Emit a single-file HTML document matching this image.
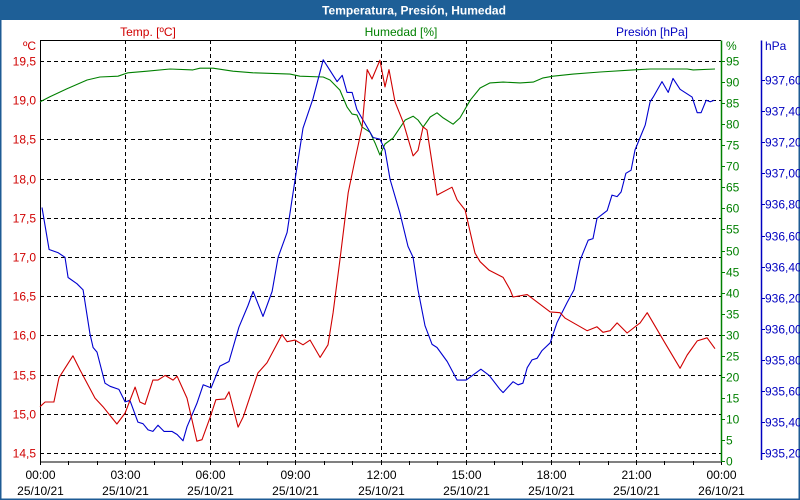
<!DOCTYPE html>
<html><head><meta charset="utf-8"><style>
html,body{margin:0;padding:0;background:#fff;}
svg{display:block;font-family:"Liberation Sans",sans-serif;}
</style></head><body>
<svg id="chart" width="800" height="500" viewBox="0 0 800 500">
<rect x="0" y="0" width="800" height="500" fill="#fff"/>
<rect x="0.5" y="0.5" width="799" height="499" fill="none" stroke="#1e5b94" stroke-width="2"/>
<rect x="0" y="0" width="800" height="20" fill="#1e5f97"/>
<text x="414" y="14.5" text-anchor="middle" font-size="12" font-weight="bold" fill="#fff">Temperatura, Presión, Humedad</text>
<text x="148" y="36" text-anchor="middle" font-size="12" fill="#d00000">Temp. [ºC]</text>
<text x="401" y="36" text-anchor="middle" font-size="12" fill="#008000">Humedad [%]</text>
<text x="652" y="36" text-anchor="middle" font-size="12" fill="#0000c0">Presión [hPa]</text>
<g id="grid"></g>
<g id="axes"></g>
<g id="series"></g>
</svg>
<script>
const timeTicks=["00:00","03:00","06:00","09:00","12:00","15:00","18:00","21:00","00:00"];
const dateTicks=["25/10/21","25/10/21","25/10/21","25/10/21","25/10/21","25/10/21","25/10/21","25/10/21","26/10/21"];
const tempTicks=[14.5,15,15.5,16,16.5,17,17.5,18,18.5,19,19.5];
const humTicks=[0,5,10,15,20,25,30,35,40,45,50,55,60,65,70,75,80,85,90,95];
const presTicks=[935.2,935.4,935.6,935.8,936.0,936.2,936.4,936.6,936.8,937.0,937.2,937.4,937.6];

const tempHours=[0,0.18,0.49,0.67,1.16,1.41,1.94,2.22,2.71,3.00,3.35,3.52,3.70,3.98,4.16,4.41,4.69,4.83,5.18,5.53,5.71,5.99,6.20,6.52,6.66,6.98,7.16,7.68,8.00,8.53,8.71,8.99,9.27,9.52,9.87,10.15,10.33,10.57,10.86,11.10,11.35,11.53,11.70,11.98,12.16,12.30,12.51,12.80,13.15,13.32,13.50,13.64,13.99,14.52,14.70,14.98,15.33,15.51,15.83,16.32,16.57,16.67,17.17,17.98,18.33,18.51,19.28,19.63,19.84,20.09,20.34,20.69,21.15,21.40,22.03,22.56,22.81,23.16,23.51,23.79];
const tempValues=[15.09,15.15,15.15,15.46,15.74,15.56,15.20,15.09,14.87,15.01,15.34,15.15,15.12,15.43,15.43,15.49,15.43,15.48,15.20,14.65,14.67,14.95,15.18,15.19,15.28,14.83,14.96,15.52,15.65,16.01,15.92,15.94,15.88,15.94,15.72,15.88,16.29,16.96,17.82,18.24,18.66,19.39,19.27,19.51,19.17,19.39,18.98,18.72,18.29,18.36,18.66,18.62,17.79,17.89,17.73,17.60,17.05,16.94,16.83,16.74,16.58,16.49,16.52,16.30,16.29,16.22,16.06,16.11,16.04,16.06,16.16,16.03,16.16,16.29,15.90,15.58,15.75,15.93,15.97,15.83];

const humHours=[0,0.35,0.95,1.66,2.11,2.75,3.10,3.77,4.58,5.39,5.64,6.10,6.80,7.51,8.81,9.16,9.98,10.22,10.57,10.82,11.00,11.17,11.35,11.63,11.81,11.98,12.16,12.44,12.87,13.15,13.32,13.50,13.75,13.99,14.21,14.56,14.80,15.16,15.51,15.86,16.32,16.92,17.38,17.73,18.08,18.79,19.74,20.90,21.50,22.81,23.02,23.79];
const humValues=[85.3,86.5,88.4,90.5,91.2,91.4,92.2,92.6,93.1,92.9,93.3,93.3,92.6,92.2,91.9,91.4,91.2,90.5,88.1,84.1,82.4,82.2,79.3,78.1,75.5,72.7,75.3,76.7,81.0,81.9,81.0,79.3,81.7,82.7,81.5,80.0,81.5,85.7,88.6,89.8,90.0,89.8,90.0,91.0,91.4,91.9,92.4,92.9,93.1,93.1,92.9,93.1];

const presHours=[0.07,0.32,0.63,0.88,0.99,1.30,1.52,1.76,1.87,2.01,2.29,2.47,2.78,3.00,3.17,3.45,3.63,3.81,3.98,4.16,4.37,4.65,4.83,5.04,5.18,5.53,5.75,6.03,6.34,6.66,7.01,7.33,7.51,7.86,8.18,8.39,8.71,8.88,9.27,9.62,9.98,10.47,10.65,10.82,11.00,11.17,11.74,11.98,12.16,12.34,12.69,12.97,13.15,13.32,13.57,13.82,13.99,14.35,14.70,15.02,15.54,15.83,16.21,16.32,16.67,16.85,17.02,17.17,17.34,17.52,17.69,17.98,18.22,18.58,18.82,19.03,19.32,19.49,19.63,19.99,20.16,20.34,20.48,20.65,20.83,20.97,21.15,21.33,21.50,21.61,21.92,22.14,22.31,22.56,22.98,23.16,23.30,23.48,23.62,23.76];
const presValues=[936.78,936.51,936.49,936.46,936.33,936.29,936.25,935.97,935.88,935.85,935.65,935.63,935.61,935.53,935.54,935.40,935.39,935.35,935.34,935.38,935.34,935.34,935.32,935.28,935.37,935.52,935.64,935.62,935.76,935.79,936.01,936.15,936.24,936.08,936.24,936.46,936.62,936.83,937.29,937.48,937.73,937.59,937.63,937.52,937.52,937.41,937.23,937.22,937.15,936.96,936.74,936.53,936.46,936.25,936.02,935.90,935.88,935.79,935.67,935.67,935.74,935.70,935.61,935.59,935.66,935.64,935.65,935.75,935.80,935.81,935.86,935.91,936.04,936.17,936.25,936.44,936.57,936.58,936.71,936.76,936.86,936.85,936.88,937.00,937.02,937.15,937.23,937.31,937.46,937.49,937.59,937.52,937.61,937.54,937.49,937.39,937.39,937.47,937.46,937.47];

const L=40,R=721,T=40,B=461;
const xH=h=>L+h*(R-L)/24;
const yT=v=>61+(19.5-v)*78.4;
const yH=v=>461-v*4.21;
const yP=v=>80+(937.6-v)*155.5;
const NS="http://www.w3.org/2000/svg";
function mk(tag,attrs,parent){const e=document.createElementNS(NS,tag);for(const k in attrs)e.setAttribute(k,attrs[k]);parent.appendChild(e);return e;}
const grid=document.getElementById('grid'),axes=document.getElementById('axes'),series=document.getElementById('series');

tempTicks.forEach((t,i)=>{
  const y=Math.round(yT(t))+0.5;
  const g=mk('line',{x1:L,x2:R,y1:y,y2:y,stroke:'#000','stroke-dasharray':'4,3','stroke-width':1},grid);
  
  
  const lb=mk('text',{x:36,y:y+4,'text-anchor':'end','font-size':12,fill:'#d00000'},axes);
  lb.textContent=t.toFixed(1).replace('.',',');
  
  
});
timeTicks.forEach((t,i)=>{
  const x=Math.round(xH(i*3))+0.5;
  if(i>0&&i<8){const g=mk('line',{x1:x,x2:x,y1:T,y2:B,stroke:'#000','stroke-dasharray':'4,3'},grid);
  
  }
  const a=mk('text',{x:x,y:479,'text-anchor':'middle','font-size':12,fill:'#000'},axes);
  a.textContent=t;
  
  
  const d=mk('text',{x:x,y:495,'text-anchor':'middle','font-size':12,fill:'#000'},axes);
  d.textContent=dateTicks[i];
  
  
});
for(let h=0;h<=24;h++){const x=Math.round(xH(h))+0.5;
  const tk=mk('line',{x1:x,x2:x,y1:B,y2:B+4,stroke:'#000'},axes);
  
  }
humTicks.forEach(v=>{
  const y=Math.round(yH(v))+0.5;
  const tk=mk('line',{x1:R,x2:R+4,y1:y,y2:y,stroke:'#008000'},axes);
  
  
  const lb=mk('text',{x:726,y:y+4,'font-size':12,fill:'#008000'},axes);
  lb.textContent=v;
  
  
});
presTicks.forEach(v=>{
  const y=Math.round(yP(v))+0.5;
  const tk=mk('line',{x1:761,x2:765,y1:y,y2:y,stroke:'#0000c0'},axes);
  
  
  const lb=mk('text',{x:765,y:y+4,'font-size':12,fill:'#0000c0'},axes);
  lb.textContent=v.toFixed(2).replace('.',',');
  
  
});
const axl=[[L,T,R,T,'#000','plot-top-border'],[L+0.5,T,L+0.5,B,'#000','temp-axis'],[L,B+0.5,R,B+0.5,'#000','x-axis'],[R+0.5,T,R+0.5,B,'#008000','humidity-axis'],[761.5,40,761.5,460,'#0000c0','pressure-axis']];
axl.forEach(a=>{const e=mk('line',{x1:a[0],y1:a[1]+0.5,x2:a[2],y2:a[3]+(a[1]===a[3]?0.5:0),stroke:a[4],'stroke-width':a[4]==='#000'?1:1.5},axes);
  
  });
const u1=mk('text',{x:36,y:50,'text-anchor':'end','font-size':12,fill:'#d00000'},axes);u1.textContent='ºC';


const u2=mk('text',{x:726,y:50,'font-size':12,fill:'#008000'},axes);u2.textContent='%';


const u3=mk('text',{x:765,y:50,'font-size':12,fill:'#0000c0'},axes);u3.textContent='hPa';



function line(hs,vs,yf,color,name){
  const pts=hs.map((h,i)=>xH(h).toFixed(1)+','+yf(vs[i]).toFixed(1)).join(' ');
  const p=mk('polyline',{points:pts,fill:'none',stroke:color,'stroke-width':1.1,'stroke-linejoin':'round'},series);
  
  
}
line(humHours,humValues,yH,'#008000','humidity-line');
line(presHours,presValues,yP,'#0000d0','pressure-line');
line(tempHours,tempValues,yT,'#d00000','temperature-line');
</script>
</body></html>
